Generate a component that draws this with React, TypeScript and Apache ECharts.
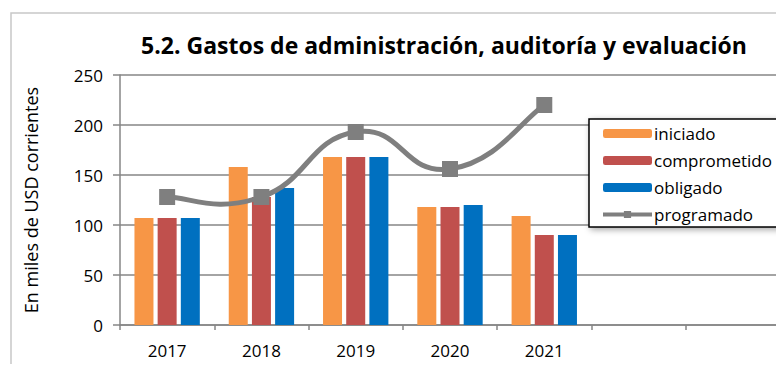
import React, { useEffect, useRef } from "react";
import * as echarts from "echarts";

const categories = ["2017", "2018", "2019", "2020", "2021", "", ""];
const iniciado = [107, 158, 168, 118, 109, null, null];
const comprometido = [107, 128, 168, 118, 90, null, null];
const obligado = [107, 137, 168, 120, 90, null, null];
const programado = [128, 128, 193, 156, 220, null, null];
const yTicks = [0, 50, 100, 150, 200, 250];

const FONT = "'Open Sans', 'Noto Sans', sans-serif";
const GRAY = "#7F7F7F";

export default function App() {
  const ref = useRef<HTMLDivElement>(null);
  useEffect(() => {
    if (!ref.current) return;
    const chart = echarts.init(ref.current, null, { renderer: "svg" });
    const progData = programado
      .map((v, i) => (v == null ? null : [i, v]))
      .filter((d) => d != null) as number[][];

    // Excel-like smooth curve (Catmull-Rom style) through the programado points
    const renderCurve = (params: any, api: any) => {
      if (params.dataIndex !== 0) return null;
      const pts = progData.map((d) => api.coord(d));
      const n = pts.length;
      const k = 0.25;
      const tan = pts.map((p, i) => {
        const a = pts[Math.max(0, i - 1)];
        const b = pts[Math.min(n - 1, i + 1)];
        return [(b[0] - a[0]) * k, (b[1] - a[1]) * k];
      });
      const children: any[] = [];
      for (let i = 0; i < n - 1; i++) {
        const p0 = pts[i];
        const p1 = pts[i + 1];
        children.push({
          type: "bezierCurve",
          shape: {
            x1: p0[0],
            y1: p0[1],
            x2: p1[0],
            y2: p1[1],
            cpx1: p0[0] + tan[i][0],
            cpy1: p0[1] + tan[i][1],
            cpx2: p1[0] - tan[i + 1][0],
            cpy2: p1[1] - tan[i + 1][1],
          },
          style: { stroke: GRAY, lineWidth: 5, fill: null, lineCap: "round" },
        });
      }
      return { type: "group", children };
    };

    chart.setOption({
      animation: false,
      backgroundColor: "#ffffff",
      textStyle: { fontFamily: FONT },
      title: {
        text: "5.2. Gastos de administración, auditoría y evaluación",
        left: 439,
        top: 28,
        textAlign: "center",
        textStyle: { fontFamily: FONT, fontSize: 23, fontWeight: "bold", color: "#000" },
      },
      graphic: [
        {
          type: "rect",
          shape: { x: 11, y: 13, width: 800, height: 400 },
          style: { fill: "none", stroke: "#c8c8c8", lineWidth: 1.5 },
          silent: true,
          z: -1,
        },
        {
          type: "rect",
          shape: { x: 589, y: 119, width: 260, height: 108 },
          style: {
            fill: "#fff",
            stroke: "#000",
            lineWidth: 1.5,
            shadowBlur: 6,
            shadowColor: "rgba(0,0,0,0.35)",
            shadowOffsetX: 2,
            shadowOffsetY: 2,
          },
          silent: true,
          z: 3,
        },
      ],
      grid: { left: 120, right: 4, top: 75, bottom: 47, containLabel: false },
      legend: {
        orient: "vertical",
        left: 589,
        top: 119,
        padding: [6, 10, 6, 12],
        itemGap: 10,
        itemWidth: 49,
        itemHeight: 9,
        z: 10,
        textStyle: { fontFamily: FONT, fontSize: 17, color: "#000", padding: [0, 0, 0, -3] },
        data: [
          "iniciado",
          "comprometido",
          "obligado",
          {
            name: "programado",
            lineStyle: { color: GRAY, width: 4, opacity: 1 },
            itemStyle: { color: GRAY },
          },
        ],
      },
      xAxis: {
        type: "category",
        data: categories,
        axisLine: { lineStyle: { color: "#868686", width: 1.5 } },
        axisTick: { show: true, length: 5, alignWithLabel: false, lineStyle: { color: "#868686", width: 1.5 } },
        axisLabel: { fontFamily: FONT, fontSize: 17, color: "#000", margin: 17 },
        splitLine: { show: false },
      },
      yAxis: {
        type: "value",
        min: yTicks[0],
        max: yTicks[yTicks.length - 1],
        interval: 50,
        name: "En miles de USD corrientes",
        nameLocation: "middle",
        nameGap: 80,
        nameRotate: 90,
        nameTextStyle: { fontFamily: FONT, fontSize: 18, color: "#000" },
        axisLine: { show: true, lineStyle: { color: "#868686", width: 1.5 } },
        axisTick: { show: true, length: 7, lineStyle: { color: "#868686", width: 1.5 } },
        axisLabel: { fontFamily: FONT, fontSize: 17, color: "#000", margin: 17 },
        splitLine: { lineStyle: { color: "#868686", width: 1.5 } },
      },
      series: [
        {
          name: "iniciado",
          type: "bar",
          data: iniciado,
          barWidth: 19,
          barGap: "22%",
          itemStyle: { color: "#F79646" },
        },
        {
          name: "comprometido",
          type: "bar",
          data: comprometido,
          barWidth: 19,
          barGap: "22%",
          itemStyle: { color: "#C0504D" },
        },
        {
          name: "obligado",
          type: "bar",
          data: obligado,
          barWidth: 19,
          barGap: "22%",
          itemStyle: { color: "#0070C0" },
        },
        {
          name: "programado-curve",
          type: "custom",
          data: progData,
          encode: { x: 0, y: 1 },
          renderItem: renderCurve,
          z: 4,
          silent: true,
        },
        {
          name: "programado",
          type: "line",
          data: programado,
          symbol: "rect",
          symbolSize: 16,
          z: 6,
          lineStyle: { color: GRAY, width: 0, opacity: 0 },
          itemStyle: { color: GRAY },
        },
      ],
    });
    return () => chart.dispose();
  }, []);
  return <div ref={ref} style={{ width: 784, height: 372, margin: -8 }} />;
}
